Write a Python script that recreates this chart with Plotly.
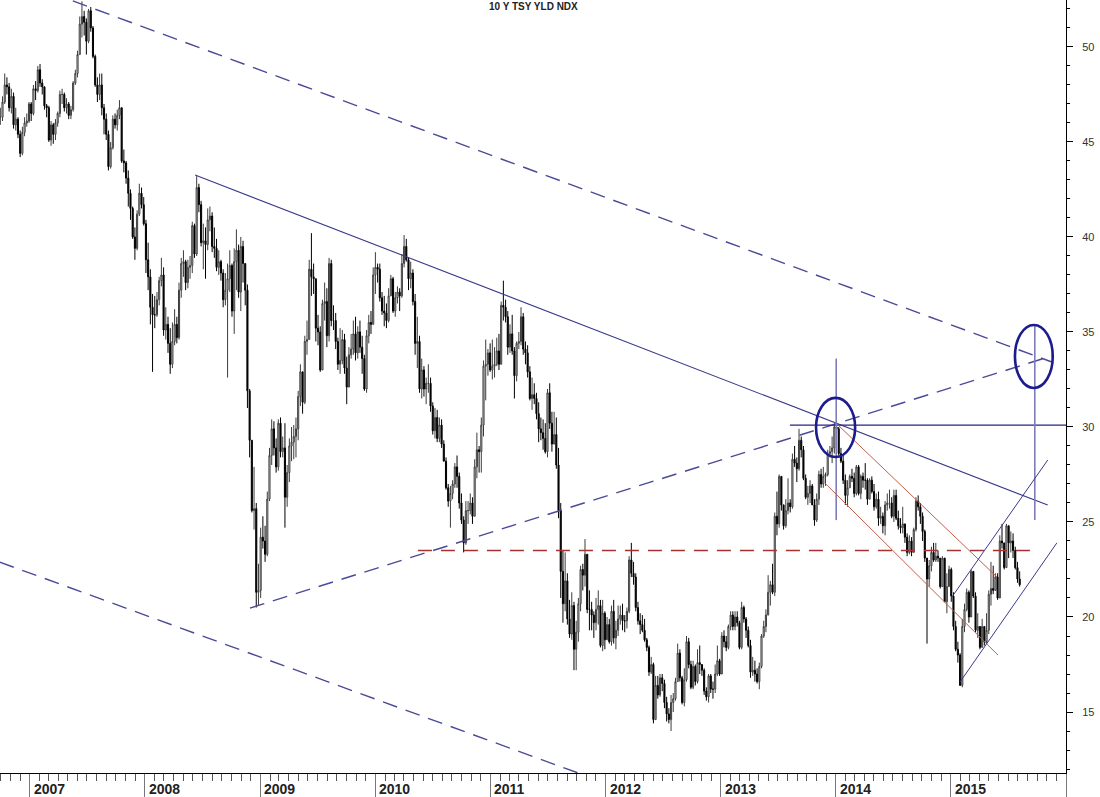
import plotly.graph_objects as go
import pandas as pd

# ---------------- weekly 10Y yield index (x10) ----------------
close_2006 = [46.3, 47.1, 48.0, 47.9, 46.8, 47.4, 45.9, 46.2, 45.4, 44.4, 45.5, 46.0, 46.1, 47.0]
high_2006 = [46.8, 47.4, 48.6, 48.4, 48.1, 47.8, 47.6, 46.8, 46.3, 45.6, 45.8, 46.3, 46.5, 47.1]
low_2006 = [45.9, 46.1, 47.0, 47.5, 46.6, 46.5, 45.7, 45.6, 45.2, 44.2, 44.3, 45.3, 45.8, 46.0]

close_2007 = [46.5, 47.8, 47.7, 48.8, 48.1, 47.9, 46.9, 46.8, 45.1, 45.9, 45.4, 46.0, 46.5, 47.5, 47.5, 46.8, 47.0, 46.4,
              46.7, 48.1, 48.6, 49.6, 51.2, 51.6, 51.3, 50.3, 51.9, 51.0, 49.5, 48.0, 47.5, 48.0, 46.8, 46.2, 45.4, 43.7,
              44.7, 46.2, 45.9, 46.4, 46.8, 44.0, 43.9, 43.1, 42.3, 41.5, 40.0, 39.4, 41.2, 42.3, 41.7, 40.7]
high_2007 = [47.1, 48.0, 48.2, 49.0, 49.1, 48.3, 47.9, 47.0, 46.9, 46.1, 46.0, 46.2, 46.6, 47.7, 47.8, 47.6, 47.3, 47.1,
             46.9, 48.2, 48.8, 49.8, 51.6, 52.4, 51.9, 51.5, 52.0, 52.1, 51.1, 49.6, 48.4, 48.6, 48.6, 47.0, 46.5, 45.6,
             45.0, 46.4, 46.5, 46.7, 47.2, 46.8, 44.6, 44.0, 43.5, 42.5, 41.6, 40.5, 41.4, 42.8, 42.6, 42.1]
low_2007 = [46.1, 46.4, 47.2, 47.6, 47.9, 47.5, 46.7, 46.3, 45.0, 44.8, 44.9, 45.1, 45.8, 46.3, 47.0, 46.6, 46.5, 46.2,
            46.2, 46.6, 48.0, 48.4, 49.6, 50.5, 50.6, 49.6, 50.2, 50.8, 49.4, 47.9, 47.1, 47.2, 46.4, 45.4, 45.1, 43.5,
            43.6, 44.6, 45.7, 45.6, 46.2, 43.9, 43.4, 42.8, 41.6, 40.9, 39.9, 38.8, 39.3, 41.1, 41.5, 40.6]

close_2008 = [38.8, 37.9, 36.3, 35.9, 35.9, 36.7, 37.7, 38.0, 35.1, 35.4, 34.4, 33.3, 34.5, 35.4, 34.7, 37.2, 38.6, 38.7,
              37.6, 38.4, 38.5, 40.6, 39.1, 42.6, 41.7, 39.7, 39.8, 39.6, 40.9, 41.1, 39.5, 39.4, 38.4, 38.7, 38.1, 36.7,
              37.2, 37.8, 38.5, 36.1, 38.7, 39.3, 37.1, 39.5, 38.6, 37.2, 31.9, 29.3, 25.6, 25.7, 21.3, 21.4]
high_2008 = [40.9, 39.7, 38.3, 37.0, 36.9, 37.1, 37.9, 38.9, 38.4, 36.3, 35.8, 35.2, 35.5, 36.2, 35.8, 37.6, 38.9, 39.3,
             38.8, 38.8, 39.0, 40.8, 40.7, 43.2, 42.8, 41.9, 40.7, 40.5, 41.5, 41.6, 41.3, 40.5, 39.9, 39.3, 38.8, 38.3,
             38.1, 38.6, 39.3, 38.6, 39.4, 40.4, 39.6, 40.0, 39.8, 38.3, 37.5, 32.0, 29.3, 27.9, 26.0, 22.8]
low_2008 = [38.1, 37.2, 35.4, 32.9, 35.2, 35.8, 36.4, 37.4, 34.8, 34.6, 33.9, 32.8, 33.1, 34.3, 34.4, 34.6, 36.8, 37.9,
            37.2, 37.3, 37.8, 38.1, 38.9, 39.0, 41.3, 39.5, 38.3, 37.8, 39.3, 40.3, 39.2, 38.9, 38.2, 38.0, 37.7, 36.3,
            36.4, 32.6, 37.1, 35.8, 34.9, 37.2, 36.8, 36.1, 37.6, 36.4, 31.0, 28.4, 25.5, 24.6, 20.5, 20.6]

close_2009 = [24.2, 24.0, 23.3, 26.2, 28.5, 29.9, 28.9, 27.9, 30.2, 28.7, 28.9, 26.3, 27.6, 29.0, 29.2, 29.5, 29.9, 31.6,
              32.9, 31.3, 34.5, 34.6, 38.3, 37.9, 37.8, 35.2, 35.0, 33.0, 36.5, 36.6, 34.8, 38.6, 35.6, 35.6, 34.5, 33.3,
              33.5, 34.6, 33.1, 32.1, 33.8, 34.1, 34.9, 33.9, 35.0, 34.2, 33.6, 32.0, 34.8, 35.5, 35.4, 38.0]
high_2009 = [24.7, 25.3, 24.8, 26.6, 28.9, 30.4, 30.3, 29.4, 30.4, 30.5, 29.5, 30.2, 28.0, 29.4, 30.0, 30.1, 30.5, 31.9,
             33.3, 32.8, 34.8, 35.6, 38.8, 40.2, 38.6, 37.8, 35.9, 35.3, 36.7, 37.6, 37.3, 38.9, 38.8, 36.4, 36.0, 34.7,
             35.2, 35.1, 34.9, 33.7, 34.2, 34.9, 35.6, 35.8, 35.3, 35.6, 34.8, 33.8, 35.1, 35.9, 36.1, 38.4]
low_2009 = [21.0, 23.6, 22.9, 23.2, 26.1, 28.0, 28.5, 27.6, 27.7, 28.4, 28.4, 24.7, 25.8, 27.1, 28.2, 28.3, 28.4, 29.3,
            31.1, 30.7, 31.2, 33.8, 34.6, 36.9, 37.0, 34.5, 34.3, 32.9, 33.1, 35.6, 34.2, 34.5, 35.3, 35.1, 34.1, 33.0,
            32.8, 33.3, 32.8, 31.2, 32.2, 33.6, 33.8, 33.5, 33.6, 33.9, 32.8, 31.9, 31.8, 34.4, 34.9, 35.5]

close_2010 = [38.4, 38.3, 36.8, 36.1, 36.0, 35.6, 36.9, 37.8, 36.1, 36.8, 37.1, 36.9, 38.6, 39.5, 38.8, 37.8, 38.1, 36.6,
              34.4, 34.5, 32.0, 33.0, 32.0, 32.3, 32.3, 31.1, 29.8, 30.5, 29.4, 30.1, 29.1, 28.2, 26.8, 26.1, 26.5, 27.0,
              27.9, 27.4, 26.0, 25.1, 23.9, 25.6, 25.6, 26.0, 25.3, 27.9, 28.8, 28.7, 30.1, 33.2, 33.3, 33.9, 33.0]
high_2010 = [39.2, 38.6, 38.6, 37.1, 36.9, 36.5, 37.3, 38.0, 37.9, 37.1, 37.4, 37.3, 39.1, 40.1, 39.9, 38.9, 38.7, 38.3,
             37.0, 35.8, 34.8, 33.6, 33.2, 32.6, 33.3, 32.6, 31.3, 31.0, 30.9, 30.5, 30.4, 29.3, 28.4, 27.0, 26.9, 27.2,
             28.1, 28.5, 27.6, 26.5, 25.3, 26.1, 26.1, 26.5, 26.3, 28.3, 29.7, 29.0, 30.5, 33.5, 34.6, 34.1, 34.4]
low_2010 = [37.0, 37.6, 36.6, 35.9, 35.3, 35.2, 35.5, 36.9, 36.0, 35.8, 36.5, 36.1, 36.8, 38.4, 38.7, 37.2, 37.3, 36.4,
            33.8, 33.1, 31.8, 31.5, 31.6, 31.2, 31.8, 30.8, 29.6, 29.4, 29.2, 29.2, 28.9, 28.2, 26.7, 25.8, 24.7, 26.2,
            26.8, 26.8, 25.7, 24.9, 23.4, 23.8, 24.9, 25.4, 24.9, 25.5, 27.3, 27.6, 27.6, 29.5, 31.4, 32.7, 32.9]

close_2011 = [33.2, 33.3, 34.0, 33.3, 36.4, 36.3, 35.8, 34.2, 34.9, 34.0, 32.7, 34.4, 34.5, 35.8, 34.1, 33.9, 32.9, 31.5,
              31.7, 31.5, 30.7, 29.9, 29.7, 29.4, 28.7, 31.8, 30.2, 29.1, 29.6, 28.0, 25.6, 22.4, 20.7, 21.9, 19.9, 19.1,
              20.6, 18.3, 19.2, 20.7, 22.5, 22.2, 23.3, 20.4, 20.4, 20.1, 19.7, 20.4, 20.6, 18.5, 20.2, 18.8]
high_2011 = [34.6, 34.2, 34.7, 34.9, 36.6, 37.7, 36.7, 36.1, 35.4, 35.9, 34.2, 34.5, 35.0, 36.3, 36.0, 34.5, 34.3, 33.2,
             32.6, 32.3, 31.8, 31.3, 30.5, 30.4, 30.2, 32.0, 32.3, 30.8, 30.8, 30.5, 28.9, 26.0, 23.5, 23.4, 22.3, 20.9,
             21.3, 20.8, 19.8, 21.0, 22.7, 22.8, 24.1, 23.3, 21.4, 20.8, 20.3, 21.0, 21.4, 20.9, 20.9, 20.3]
low_2011 = [32.5, 32.6, 33.2, 33.0, 33.3, 35.6, 35.5, 33.8, 33.9, 33.8, 31.5, 32.4, 34.1, 34.3, 33.8, 33.3, 32.6, 31.4,
            30.9, 31.2, 30.4, 29.2, 29.3, 28.8, 28.6, 28.4, 29.9, 28.7, 29.3, 27.8, 25.2, 21.0, 19.7, 20.3, 19.6, 18.9,
            18.8, 17.2, 17.2, 18.7, 20.3, 21.4, 21.6, 20.2, 19.3, 19.3, 18.9, 19.3, 19.6, 18.4, 18.2, 18.3]

close_2012 = [19.6, 18.7, 20.3, 18.9, 19.3, 19.9, 20.1, 19.8, 19.8, 20.3, 23.0, 22.3, 22.1, 20.5, 19.8, 19.6, 19.3, 18.8,
              18.4, 17.1, 17.5, 14.6, 16.4, 15.9, 16.8, 16.5, 15.5, 14.9, 14.6, 15.5, 15.7, 16.6, 18.1, 16.8, 15.5, 16.7,
              18.7, 17.5, 16.3, 17.4, 16.6, 17.6, 17.5, 17.2, 16.1, 15.8, 16.9, 16.2, 16.2, 17.0, 17.7, 17.0]
high_2012 = [20.0, 19.9, 20.6, 20.9, 19.8, 20.6, 20.6, 20.7, 20.1, 20.5, 23.2, 23.9, 22.9, 22.3, 20.8, 20.2, 20.1, 19.9,
             18.9, 18.5, 17.9, 17.6, 16.9, 16.9, 17.0, 17.0, 16.7, 15.8, 15.2, 15.9, 16.0, 16.8, 18.6, 18.3, 16.9, 17.3,
             19.0, 18.9, 17.7, 17.7, 17.5, 18.3, 18.5, 17.5, 17.3, 16.3, 17.0, 17.0, 16.6, 17.5, 18.5, 17.8]
low_2012 = [19.0, 18.6, 18.5, 18.6, 18.3, 19.0, 19.6, 19.3, 19.2, 19.4, 20.2, 22.1, 21.7, 20.3, 19.6, 19.1, 19.2, 18.7,
            18.2, 16.9, 17.0, 14.4, 14.8, 15.7, 15.8, 16.1, 15.2, 14.5, 14.4, 14.0, 15.0, 15.6, 16.6, 16.6, 15.4, 15.3,
            16.6, 17.3, 16.2, 16.2, 16.4, 16.5, 17.0, 16.9, 15.9, 15.6, 15.5, 16.0, 15.7, 16.0, 16.9, 16.9]

close_2013 = [19.0, 18.7, 18.4, 19.5, 20.1, 19.5, 20.0, 19.7, 18.4, 20.5, 19.9, 19.3, 18.5, 17.1, 17.2, 17.0, 16.6, 17.4,
              19.0, 19.5, 20.1, 21.3, 21.7, 21.3, 25.3, 24.9, 27.4, 25.9, 24.8, 25.6, 26.0, 25.8, 28.3, 28.1, 27.8, 29.3,
              28.8, 27.3, 26.3, 26.5, 26.9, 25.9, 25.1, 26.2, 27.5, 27.0, 27.4, 27.5, 28.6, 28.7, 28.9, 30.0]
high_2013 = [19.2, 19.3, 19.0, 19.6, 20.3, 20.3, 20.3, 20.3, 19.8, 20.8, 20.6, 20.0, 19.5, 18.8, 17.9, 17.7, 17.3, 17.6,
             19.1, 19.8, 20.4, 22.2, 21.9, 22.8, 25.5, 26.6, 27.5, 27.0, 25.9, 26.2, 27.3, 26.2, 28.6, 29.0, 28.4, 29.9,
             29.5, 29.0, 27.5, 26.9, 27.2, 27.0, 26.2, 26.5, 27.7, 27.8, 27.9, 27.6, 28.8, 29.0, 29.5, 30.2]
low_2013 = [18.2, 18.4, 18.2, 18.3, 19.3, 19.3, 19.3, 19.5, 18.3, 18.3, 19.7, 18.9, 18.4, 16.8, 16.9, 16.6, 16.5, 16.2,
            17.3, 18.9, 19.2, 20.1, 20.6, 21.2, 21.1, 24.3, 24.7, 25.6, 24.6, 24.7, 25.4, 25.5, 25.7, 27.9, 27.1, 27.7,
            28.4, 27.2, 26.2, 25.9, 26.0, 25.9, 24.8, 25.0, 25.9, 26.8, 26.8, 26.9, 27.4, 28.4, 28.1, 28.6]

close_2014 = [29.9, 28.6, 28.2, 27.2, 26.4, 26.8, 27.4, 27.3, 26.5, 27.9, 26.5, 27.4, 27.2, 27.2, 26.2, 27.2, 26.6, 25.8,
              26.2, 25.2, 25.3, 24.8, 25.9, 26.0, 26.0, 25.3, 26.4, 25.2, 24.8, 24.7, 24.9, 24.2, 23.4, 24.0, 23.4, 24.6,
              26.1, 25.8, 25.3, 24.5, 23.1, 22.0, 22.7, 23.4, 23.0, 23.2, 23.1, 21.6, 23.1, 20.8, 21.6, 22.5]
high_2014 = [30.3, 30.0, 28.9, 28.5, 27.5, 27.2, 27.5, 27.8, 27.6, 28.0, 28.0, 27.5, 27.6, 28.1, 27.3, 27.3, 27.4, 27.0,
             26.5, 26.6, 25.8, 25.5, 26.1, 26.5, 26.7, 26.3, 26.7, 26.7, 25.6, 25.2, 25.8, 24.9, 24.4, 24.3, 24.2, 24.7,
             26.3, 26.4, 26.0, 25.5, 24.6, 22.9, 23.0, 23.7, 23.9, 23.9, 23.5, 23.1, 23.2, 23.1, 22.3, 22.7]
low_2014 = [29.7, 28.5, 28.1, 27.0, 25.9, 25.8, 26.8, 27.1, 26.3, 26.4, 26.4, 26.2, 26.8, 26.7, 25.9, 26.2, 26.5, 25.6,
            25.7, 24.8, 24.9, 24.4, 24.3, 25.6, 25.7, 25.2, 25.0, 25.1, 24.6, 24.4, 24.4, 23.9, 23.2, 23.3, 23.2, 23.4,
            24.5, 25.6, 24.9, 24.0, 22.9, 18.6, 21.6, 22.4, 22.9, 22.9, 22.9, 21.5, 21.7, 20.8, 20.2, 21.6]

close_2015 = [21.1, 19.5, 18.3, 18.0, 16.4, 19.5, 20.4, 21.3, 20.0, 22.4, 21.1, 19.3, 19.5, 18.4, 19.5, 18.7, 19.3, 21.2,
              21.5, 21.4, 22.1, 21.0, 24.0, 23.9, 22.6, 24.8, 23.9, 24.0, 23.5, 22.6, 22.0, 21.7]
high_2015 = [22.6, 21.3, 19.8, 18.7, 18.1, 19.9, 20.7, 21.5, 21.4, 22.5, 22.1, 21.3, 20.2, 19.5, 19.9, 19.5, 20.2, 21.4,
             22.9, 22.7, 22.3, 22.3, 24.3, 24.9, 23.9, 24.9, 24.8, 24.5, 24.4, 23.7, 22.9, 22.4]
low_2015 = [20.8, 19.3, 18.2, 17.6, 16.5, 16.3, 19.2, 20.3, 19.7, 20.1, 21.0, 19.2, 18.9, 18.3, 18.5, 18.5, 18.6, 19.1,
            20.6, 21.2, 21.4, 20.9, 21.1, 23.6, 22.5, 22.7, 23.1, 23.4, 23.1, 22.5, 21.8, 21.6]

first_week = "2006-09-29"
year_labels = ["2007", "2008", "2009", "2010", "2011", "2012", "2013", "2014", "2015"]
y_ticks = [15, 20, 25, 30, 35, 40, 45, 50]

# ---------------- hand-drawn analysis lines (date, value) ----------------
falling_dashed_upper = [("2007-05-17", 52.42), ("2015-11-17", 33.42)]
falling_dashed_lower = [("2006-09-27", 22.89), ("2012-10-27", 9.45)]
rising_dashed = [("2008-11-29", 20.47), ("2015-11-17", 33.74)]
falling_solid = [("2008-06-08", 43.26), ("2015-11-04", 25.89)]
level_30 = [("2013-08-08", 30.1), ("2016-01-01", 30.1)]
vertical_2014 = [("2014-01-02", 33.6), ("2014-01-02", 25.1)]
vertical_2015 = [("2015-09-24", 35.3), ("2015-09-24", 25.1)]
red_channel_upper = [("2014-01-08", 30.1), ("2015-05-27", 22.1)]
red_channel_lower = [("2013-11-27", 27.05), ("2015-05-30", 18.0)]
red_support = [("2010-05-16", 23.5), ("2015-09-24", 23.5)]
rise_channel_upper = [("2015-01-04", 21.05), ("2015-11-04", 28.26)]
rise_channel_lower = [("2015-01-30", 16.58), ("2015-12-03", 23.9)]
circle_2014 = [("2013-10-30", 31.53), ("2014-03-03", 28.42)]
circle_2015 = [("2015-07-23", 35.37), ("2015-11-20", 32.05)]

# ---------------- build OHLC ----------------
closes = (close_2006 + close_2007 + close_2008 + close_2009 + close_2010 + close_2011 + close_2012 + close_2013
          + close_2014 + close_2015)
highs_raw = (high_2006 + high_2007 + high_2008 + high_2009 + high_2010 + high_2011 + high_2012 + high_2013
             + high_2014 + high_2015)
lows_raw = (low_2006 + low_2007 + low_2008 + low_2009 + low_2010 + low_2011 + low_2012 + low_2013
            + low_2014 + low_2015)
opens = [closes[0]] + closes[:-1]
highs = [max(h, o, c) for h, o, c in zip(highs_raw, opens, closes)]
lows = [min(l, o, c) for l, o, c in zip(lows_raw, opens, closes)]
dates = pd.date_range(first_week, periods=len(closes), freq="W-FRI")

fig = go.Figure()
fig.add_trace(go.Candlestick(
    x=dates, open=opens, high=highs, low=lows, close=closes,
    increasing=dict(line=dict(color="#3c3c3c", width=1), fillcolor="#ffffff"),
    decreasing=dict(line=dict(color="#000000", width=1), fillcolor="#000000"),
    whiskerwidth=0, showlegend=False, hoverinfo="skip",
))


def add_line(points, color, width, dash="solid"):
    fig.add_trace(go.Scatter(
        x=[p[0] for p in points], y=[p[1] for p in points], mode="lines",
        line=dict(color=color, width=width, dash=dash), showlegend=False, hoverinfo="skip",
    ))


dash_blue = "15px,9px"
add_line(falling_dashed_upper, "#4a4a96", 1.4, dash_blue)
add_line(falling_dashed_lower, "#4a4a96", 1.4, dash_blue)
add_line(rising_dashed, "#4a4a96", 1.4, dash_blue)
add_line(falling_solid, "#3a3a8a", 1.1)
add_line(level_30, "#24247e", 1.2)
add_line(vertical_2014, "#7c7cb8", 1.6)
add_line(vertical_2015, "#7c7cb8", 1.6)
add_line(red_channel_upper, "#c0604c", 1.0)
add_line(red_channel_lower, "#c0604c", 1.0)
add_line(red_support, "#a83232", 1.3, "14px,9px")
add_line(rise_channel_upper, "#3a3a8a", 1.0)
add_line(rise_channel_lower, "#3a3a8a", 1.0)

for circ in (circle_2014, circle_2015):
    fig.add_shape(type="circle", xref="x", yref="y",
                  x0=circ[0][0], y0=circ[1][1], x1=circ[1][0], y1=circ[0][1],
                  line=dict(color="#1c1c8e", width=2.6))

# year labels under the axis, to the right of each year tick
for yl in year_labels:
    fig.add_annotation(x=f"{yl}-01-01", xref="x", y=0, yref="paper", text=f"<b>{yl}</b>",
                       showarrow=False, xanchor="left", yanchor="middle", xshift=2, yshift=-16,
                       font=dict(family="Arial, Liberation Sans", size=14, color="#222222"))

fig.add_annotation(x=0.5, xref="paper", y=1, yref="paper", text="<b>10 Y TSY YLD NDX</b>",
                   showarrow=False, xanchor="center", yanchor="top", yshift=1,
                   font=dict(family="Arial, Liberation Sans", size=10, color="#222222"))

year_ticks = [f"{int(y)}-01-01" for y in year_labels] + ["2016-01-01"]

fig.update_layout(
    width=1100, height=797, template="none",
    margin=dict(l=0, r=34, t=0, b=24, pad=0),
    paper_bgcolor="white", plot_bgcolor="white",
    showlegend=False,
    xaxis=dict(
        type="date", range=["2006-09-28", "2016-01-01"], rangeslider=dict(visible=False),
        showgrid=False, zeroline=False, showline=True, linecolor="#000000", linewidth=1,
        tickmode="array", tickvals=year_ticks, ticktext=["" for _ in year_ticks],
        ticks="outside", ticklen=24, tickcolor="#777777", tickwidth=1,
        minor=dict(ticks="outside", dtick="M1", tick0="2007-01-01", ticklen=7, tickcolor="#555555", showgrid=False),
        automargin=False, fixedrange=True,
    ),
    yaxis=dict(
        side="right", range=[11.79, 52.47], showgrid=False, zeroline=False,
        showline=True, linecolor="#000000", linewidth=1,
        tickmode="array", tickvals=y_ticks, ticktext=[str(v) for v in y_ticks],
        ticks="outside", ticklen=6, tickcolor="#000000",
        minor=dict(ticks="outside", dtick=1, tick0=0, ticklen=3, tickcolor="#000000", showgrid=False),
        tickfont=dict(family="Arial, Liberation Sans", size=11, color="#333333"),
        ticklabelstandoff=7, automargin=False, fixedrange=True,
    ),
)

fig.write_html("out.html", config={"displayModeBar": False, "staticPlot": True},
               post_script="document.body.style.margin='0px';document.body.style.overflow='hidden';")
